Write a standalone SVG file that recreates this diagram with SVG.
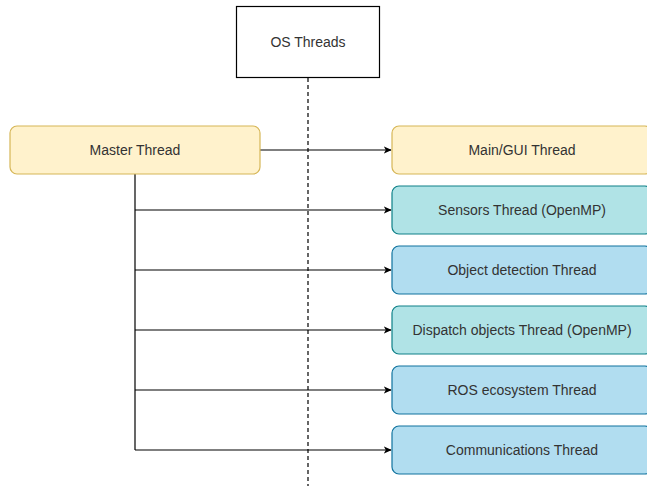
<svg xmlns="http://www.w3.org/2000/svg" width="647" height="486" viewBox="0 0 647 486">
<style>
text{font-family:"Liberation Sans",Arial,sans-serif;font-size:14px;fill:#333;text-anchor:middle;dominant-baseline:central}
.y{fill:#fff2cc;stroke:#d6b656;stroke-width:1.2}
.t{fill:#b0e3e6;stroke:#0e8088;stroke-width:1.2}
.b{fill:#b1ddf0;stroke:#10739e;stroke-width:1.2}
.c{fill:none;stroke:#000;stroke-width:1.2}
</style>
<defs>
<marker id="a" viewBox="0 0 10 10" refX="9" refY="5" markerWidth="8" markerHeight="8" markerUnits="userSpaceOnUse" orient="auto">
<path d="M0,0.5 L10,5 L0,9.5 L2.5,5 Z" fill="#000"/>
</marker>
</defs>
<rect width="647" height="486" fill="#fff"/>
<g id="connectors">
<line x1="308" y1="78" x2="308" y2="486" stroke="#000" stroke-width="1.2" stroke-dasharray="4 3"/>
<path class="c" d="M260,150 H391" marker-end="url(#a)"/>
<path class="c" d="M135,174 V450"/>
<path class="c" d="M135,210 H391" marker-end="url(#a)"/>
<path class="c" d="M135,270 H391" marker-end="url(#a)"/>
<path class="c" d="M135,330 H391" marker-end="url(#a)"/>
<path class="c" d="M135,390 H391" marker-end="url(#a)"/>
<path class="c" d="M135,450 H391" marker-end="url(#a)"/>
</g>
<g id="os"><rect x="236.5" y="6.5" width="143" height="71" fill="#fff" stroke="#000" stroke-width="1.2"/><text x="308" y="42">OS Threads</text></g>
<g id="master"><rect class="y" x="10" y="126" width="250" height="48" rx="7"/><text x="135" y="150">Master Thread</text></g>
<g id="main"><rect class="y" x="392" y="126" width="260" height="48" rx="7"/><text x="522" y="150">Main/GUI Thread</text></g>
<g id="sensors"><rect class="t" x="392" y="186" width="260" height="48" rx="7"/><text x="522" y="210">Sensors Thread (OpenMP)</text></g>
<g id="objdet"><rect class="b" x="392" y="246" width="260" height="48" rx="7"/><text x="522" y="270">Object detection Thread</text></g>
<g id="dispatch"><rect class="t" x="392" y="306" width="260" height="48" rx="7"/><text x="522" y="330">Dispatch objects Thread (OpenMP)</text></g>
<g id="ros"><rect class="b" x="392" y="366" width="260" height="48" rx="7"/><text x="522" y="390">ROS ecosystem Thread</text></g>
<g id="comms"><rect class="b" x="392" y="426" width="260" height="48" rx="7"/><text x="522" y="450">Communications Thread</text></g>
</svg>
